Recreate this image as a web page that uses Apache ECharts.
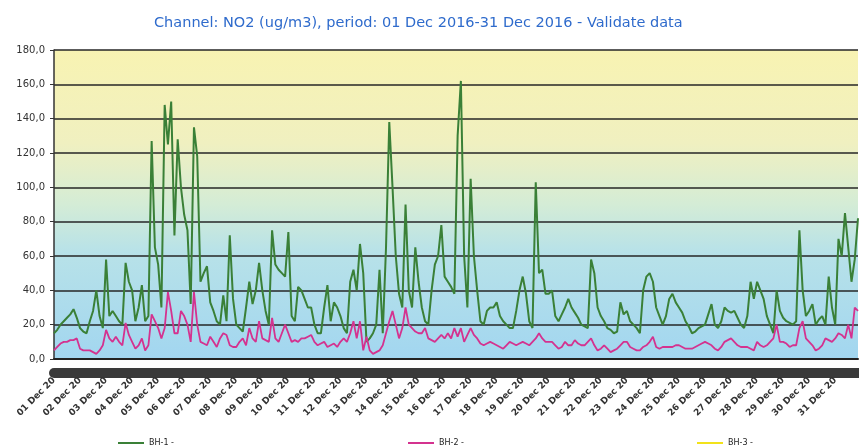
<!DOCTYPE html>
<html>
<head>
<meta charset="utf-8">
<script src="https://cdn.jsdelivr.net/npm/echarts@6/dist/echarts.min.js"></script>
<style>
html,body{margin:0;padding:0;background:#fff;}
#chart{width:859px;height:448px;}
</style>
</head>
<body>
<div id="chart"></div>
<script>
// Day labels (x axis)
var dayLabels = ["01 Dec 2016","02 Dec 2016","03 Dec 2016","04 Dec 2016","05 Dec 2016","06 Dec 2016","07 Dec 2016","08 Dec 2016","09 Dec 2016","10 Dec 2016","11 Dec 2016","12 Dec 2016","13 Dec 2016","14 Dec 2016","15 Dec 2016","16 Dec 2016","17 Dec 2016","18 Dec 2016","19 Dec 2016","20 Dec 2016","21 Dec 2016","22 Dec 2016","23 Dec 2016","24 Dec 2016","25 Dec 2016","26 Dec 2016","27 Dec 2016","28 Dec 2016","29 Dec 2016","30 Dec 2016","31 Dec 2016"];
var slotHours = ["00:00","03:00","06:00","09:00","12:00","15:00","18:00","21:00"];

// Y tick values
var yTicks = [0,20,40,60,80,100,120,140,160,180];

// BH-1 (3-hourly readings, 8 per day)
var bh1 = [
 15,17,20,22,24,26,29,24,
 18,16,15,22,28,40,25,18,
 58,25,28,25,22,20,56,45,
 40,22,30,43,22,25,127,65,
 55,30,148,125,150,72,128,100,
 84,75,32,135,118,45,50,54,
 33,28,22,20,37,22,72,35,
 20,18,16,30,45,32,40,56,
 40,28,20,75,55,52,50,48,
 74,25,22,42,40,35,30,30,
 20,15,15,30,43,22,33,30,
 25,18,15,45,52,40,67,50,
 10,12,15,20,52,15,65,138,
 100,60,38,30,90,40,30,65,
 45,30,22,20,40,55,60,78,
 48,45,42,38,130,162,60,30,
 105,60,40,22,20,28,30,30,
 33,25,22,20,18,18,28,40,
 48,38,22,18,103,50,52,38,
 38,40,25,22,26,30,35,30,
 27,24,20,19,18,58,50,30,
 25,22,18,17,15,16,33,26,
 28,22,20,18,15,40,48,50,
 45,30,25,20,25,35,38,33,
 30,27,22,19,15,16,18,19,
 20,26,32,20,18,22,30,28,
 27,28,24,20,18,25,45,35,
 45,40,35,25,20,15,40,28,
 24,22,21,20,22,75,40,25,
 28,32,20,23,25,20,48,30,
 20,70,60,85,65,45,58,82
];

// BH-2
var bh2 = [
 5,7,9,10,10,11,11,12,
 6,5,5,5,4,3,5,8,
 17,12,10,13,10,8,21,14,
 10,6,8,12,5,8,26,22,
 18,12,18,39,28,15,15,28,
 25,20,10,39,20,10,9,8,
 13,10,7,12,15,14,8,7,
 7,10,12,8,18,12,10,22,
 12,11,10,24,12,10,15,20,
 15,10,11,10,12,12,13,14,
 10,8,9,10,7,8,9,7,
 10,12,10,15,22,12,22,5,
 13,5,3,4,5,8,15,22,
 28,20,12,18,30,20,18,16,
 15,15,18,12,11,10,12,14,
 12,15,12,18,13,18,10,14,
 18,14,12,9,8,9,10,9,
 8,7,6,8,10,9,8,9,
 10,9,8,10,12,15,12,10,
 10,10,8,6,7,10,8,8,
 11,9,8,8,10,12,8,5,
 6,8,6,4,5,6,8,10,
 10,7,6,5,5,7,8,10,
 13,7,6,7,7,7,7,8,
 8,7,6,6,6,7,8,9,
 10,9,8,6,5,7,10,11,
 12,10,8,7,7,7,6,5,
 10,8,7,8,10,12,20,10,
 10,9,7,8,8,18,22,12,
 10,8,5,6,8,12,11,10,
 12,15,14,12,20,12,30,28
];

// BH-3 (no data in this period)
var bh3 = [];

var seriesNames = ["BH-1 -","BH-2 -","BH-3 -"];

var categories = [];
dayLabels.forEach(function(d){ slotHours.forEach(function(h){ categories.push(d + " " + h); }); });

var chart = echarts.init(document.getElementById('chart'), null, {renderer:'canvas'});
var FONT = 'DejaVu Sans';
var option = {
  animation: false,
  backgroundColor: '#ffffff',
  title: {
    text: 'Channel: NO2 (ug/m3), period: 01 Dec 2016-31 Dec 2016 - Validate data',
    left: 149, top: 11,
    textStyle: {color: '#2f6bcc', fontSize: 14.5, fontWeight: 'normal', fontFamily: FONT}
  },
  legend: [
    {data: [seriesNames[0]], left: 113, top: 434, icon: 'rect', itemWidth: 26, itemHeight: 2, itemGap: 2,
     textStyle: {fontSize: 8, color: '#222', fontFamily: FONT}},
    {data: [seriesNames[1]], left: 403, top: 434, icon: 'rect', itemWidth: 26, itemHeight: 2, itemGap: 2,
     textStyle: {fontSize: 8, color: '#222', fontFamily: FONT}},
    {data: [seriesNames[2]], left: 692, top: 434, icon: 'rect', itemWidth: 26, itemHeight: 2, itemGap: 2,
     textStyle: {fontSize: 8, color: '#222', fontFamily: FONT}}
  ],
  grid: {
    left: 54, right: 1, top: 50, bottom: 89, show: true, borderWidth: 0,
    backgroundColor: new echarts.graphic.LinearGradient(0, 0, 0, 1, [
      {offset: 0, color: '#f8f3b2'},
      {offset: 0.3, color: '#f0f0c0'},
      {offset: 0.5, color: '#d4ecd6'},
      {offset: 0.65, color: '#b8e2e8'},
      {offset: 1, color: '#a2d6f0'}
    ])
  },
  xAxis: [
    {
      type: 'category', data: categories, boundaryGap: false,
      axisLine: {lineStyle: {color: '#222', width: 2}},
      axisTick: {show: false},
      splitLine: {show: false},
      axisLabel: {
        interval: function(i){ return i % slotHours.length === 0; },
        formatter: function(v){ return v.split(' ').slice(0,3).join(' '); },
        rotate: 45, margin: 20, fontSize: 9, fontWeight: 'bold', color: '#333', fontFamily: FONT,
        width: 53, overflow: 'truncate', ellipsis: ''
      }
    },
    {
      type: 'category', data: categories, boundaryGap: false, position: 'bottom', offset: 14,
      axisLine: {lineStyle: {color: '#3a3a3a', width: 10}},
      axisTick: {show: true, interval: 0, length: 3, lineStyle: {color: '#3a3a3a', width: 2}},
      axisLabel: {show: false},
      splitLine: {show: false}
    }
  ],
  yAxis: {
    type: 'value', min: yTicks[0], max: yTicks[yTicks.length-1], interval: 20,
    axisLine: {show: true, lineStyle: {color: '#333', width: 1.5}},
    axisTick: {show: true, length: 4, lineStyle: {color: '#333'}},
    splitLine: {show: true, lineStyle: {color: '#262626', width: 1.6}},
    axisLabel: {
      margin: 9, fontSize: 10, color: '#333', fontFamily: FONT,
      formatter: function(v){ return v.toFixed(1).replace('.', ','); }
    }
  },
  series: [
    {name: seriesNames[0], type: 'line', data: bh1, showSymbol: false, symbol: 'none',
     lineStyle: {color: '#3a8037', width: 2}, itemStyle: {color: '#3a8037'}},
    {name: seriesNames[1], type: 'line', data: bh2, showSymbol: false, symbol: 'none',
     lineStyle: {color: '#d4328f', width: 1.8}, itemStyle: {color: '#d4328f'}},
    {name: seriesNames[2], type: 'line', data: bh3, showSymbol: false, symbol: 'none',
     lineStyle: {color: '#f2e21a', width: 1.5}, itemStyle: {color: '#f2e21a'}}
  ]
};
chart.setOption(option);
</script>
</body>
</html>
